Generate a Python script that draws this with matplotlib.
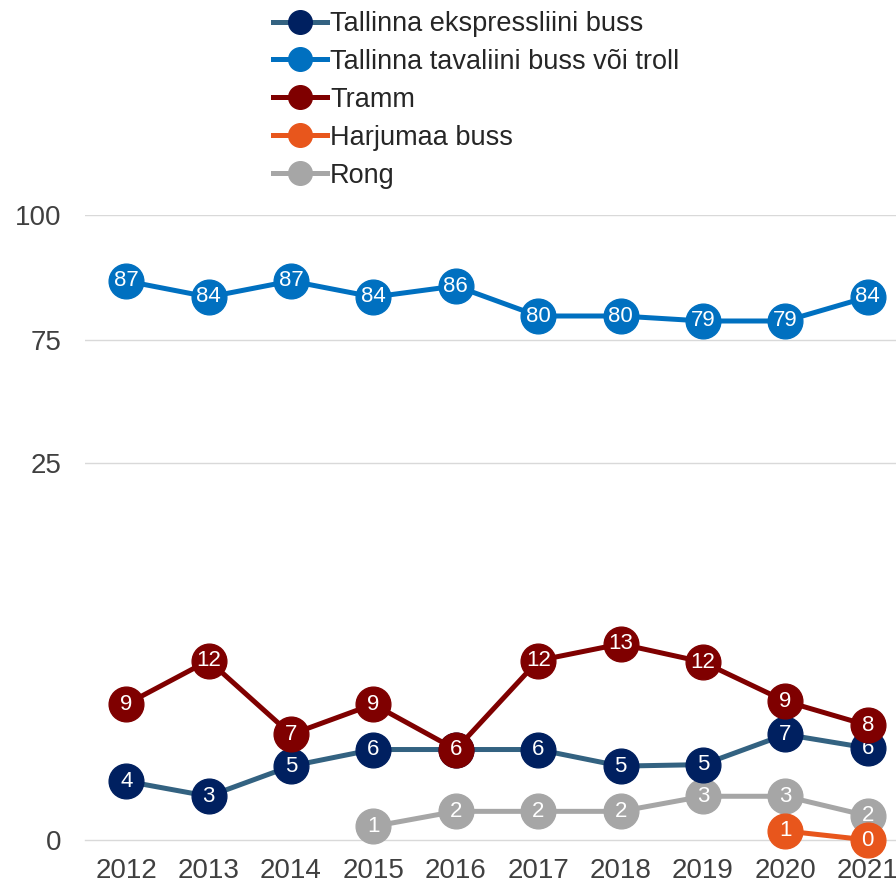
import numpy as np
import matplotlib
matplotlib.use('Agg')
import matplotlib.pyplot as plt

plt.rcParams['font.family'] = ['Liberation Sans', 'DejaVu Sans']

# -------------------- data ----------------------
years = ['2012', '2013', '2014', '2015', '2016', '2017', '2018', '2019', '2020', '2021']
nan = np.nan
ekspress = [3.9, 2.9, 4.9, 6.0, 6.0, 6.0, 4.9, 5.0, 7.0, 6.1]
tavaliini = [86.8, 83.6, 86.8, 83.6, 85.8, 79.8, 79.8, 78.8, 78.8, 83.6]
tramm = [9.0, 11.9, 7.0, 9.0, 6.0, 11.9, 13.0, 11.8, 9.2, 7.6]
harjumaa = [nan, nan, nan, nan, nan, nan, nan, nan, 0.6, 0.0]
rong = [nan, nan, nan, 0.9, 1.9, 1.9, 1.9, 2.9, 2.9, 1.6]

series_names = ['Tallinna ekspressliini buss', 'Tallinna tavaliini buss või troll',
                'Tramm', 'Harjumaa buss', 'Rong']
y_ticks = [0, 25, 75, 100]

# katkestatud telg: 0-25 lai, 25-75 kokku surutud, 75-100 kitsam
brk_in = [0, 25, 75, 100]
brk_out = [0, 377, 500, 625]


def fwd(v):
    return np.interp(v, brk_in, brk_out)


def inv(v):
    return np.interp(v, brk_out, brk_in)


# -------------------- plot ----------------------
fig = plt.figure(figsize=(8.96, 8.85), dpi=100)
ax = fig.add_axes([85 / 896, 45 / 885, 824 / 896, 625 / 885])
ax.set_yscale('function', functions=(fwd, inv))

x = np.arange(len(years))
styles = [
    (ekspress, '#336281', '#002060', 2),
    (tavaliini, '#0070C0', '#0070C0', 3),
    (tramm, '#7F0000', '#7F0000', 4),
    (harjumaa, '#E8561C', '#E8561C', 5),
    (rong, '#A6A6A6', '#A6A6A6', 1),
]

handles = []
for (vals, lc, mc, z), name in zip(styles, series_names):
    vals = np.array(vals, dtype=float)
    h, = ax.plot(x, vals, color=lc, lw=3.6, marker='o', markersize=25,
                 markerfacecolor=mc, markeredgecolor=mc, zorder=z, clip_on=False,
                 label=name)
    handles.append(h)
    for xi, v in zip(x, vals):
        if np.isnan(v):
            continue
        ax.text(xi, v, f'{v:.0f}', color='white', fontsize=16, ha='center',
                va='center', zorder=z + 0.5, clip_on=False)

ax.set_xlim(-0.5, len(years) - 0.5)
ax.set_ylim(0, 100)
ax.set_xticks(x)
ax.set_xticklabels(years)
ax.set_yticks(y_ticks)
ax.set_yticklabels([str(t) for t in y_ticks])
ax.tick_params(axis='both', length=0, labelsize=20, labelcolor='#404040')
ax.tick_params(axis='y', pad=17)
ax.tick_params(axis='x', pad=13)

for t in [25, 75, 100]:
    ax.axhline(t, color='#D9D9D9', lw=1, zorder=0)
for s in ['top', 'right', 'left']:
    ax.spines[s].set_visible(False)
ax.spines['bottom'].set_color('#D9D9D9')
ax.spines['bottom'].set_linewidth(1)
ax.spines['bottom'].set_zorder(0)

fig.legend(handles=handles, loc='upper left', bbox_to_anchor=(273 / 896, 1 - 11 / 885),
           frameon=False, fontsize=19.5, handlelength=2.0, handletextpad=0.1,
           labelspacing=0.44, borderpad=0, borderaxespad=0, markerscale=0.68,
           labelcolor='#262626')

fig.savefig('out.png', dpi=100)
